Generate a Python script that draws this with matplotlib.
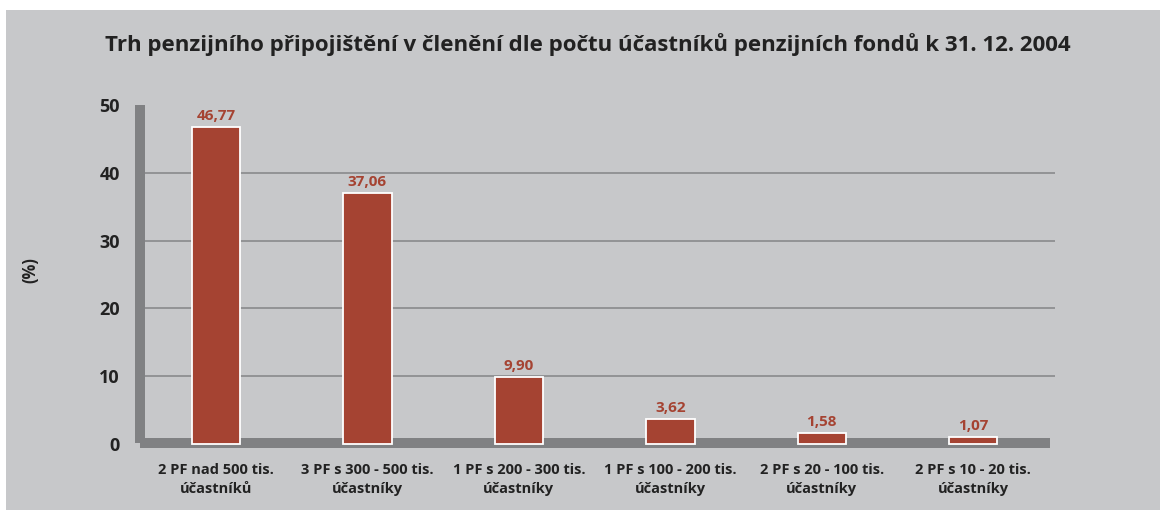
"""
Trh penzijniho pripojisteni - bar chart recreation.
"""

import matplotlib.pyplot as plt
from matplotlib.patches import Rectangle

# =========================
# DATA
# =========================
CATEGORIES = [
    "2 PF nad 500 tis.\núčastníků",
    "3 PF s 300 - 500 tis.\núčastníky",
    "1 PF s 200 - 300 tis.\núčastníky",
    "1 PF s 100 - 200 tis.\núčastníky",
    "2 PF s 20 - 100 tis.\núčastníky",
    "2 PF s 10 - 20 tis.\núčastníky",
]
VALUES = [46.77, 37.06, 9.90, 3.62, 1.58, 1.07]
Y_TICKS = [0, 10, 20, 30, 40, 50]
TITLE = "Trh penzijního připojištění v členění dle počtu účastníků penzijních fondů k 31. 12. 2004"

# =========================
# STYLE
# =========================
BG = "#c7c8ca"
AXIS_GREY = "#808183"
GRID = "#898a8c"
BAR_RED = "#a54332"
TEXT = "#222222"
FONT = ["Open Sans", "DejaVu Sans"]

W, H = 1160, 513
fig = plt.figure(figsize=(W / 100, H / 100), dpi=100)
fig.patch.set_facecolor("white")
# grey panel behind everything
fig.patches.append(Rectangle((6 / W, 3 / H), 1 - 6 / W, 500 / H,
                             transform=fig.transFigure, facecolor=BG, edgecolor="none",
                             zorder=-10))

# axes placed in pixel terms: x 145..1055, y0=444, y50=105
ax = fig.add_axes([145 / W, (H - 444) / H, 910 / W, (444 - 105) / H])
ax.set_facecolor("none")
ax.set_zorder(1)
x = range(len(VALUES))
ax.set_xlim(-0.469, len(VALUES) - 1 + 0.54)
ax.set_ylim(0, 50)

for y in Y_TICKS[1:-1]:
    ax.axhline(y, color=GRID, lw=1.2, zorder=1)

# thick grey axis bars
ax.add_patch(Rectangle((-10 / 910, 1 / 339), 10 / 910, 338 / 339, transform=ax.transAxes,
                       facecolor=AXIS_GREY, edgecolor="none", clip_on=False, zorder=2))
ax.add_patch(Rectangle((-5 / 910, -4 / 339), 910 / 910, 10 / 339, transform=ax.transAxes,
                       facecolor=AXIS_GREY, edgecolor="none", clip_on=False, zorder=2))

bars = ax.bar(x, VALUES, width=0.32, color=BAR_RED, edgecolor="white", linewidth=1.3,
              zorder=3, clip_on=False)
for rect, v in zip(bars, VALUES):
    ax.annotate(f"{v:.2f}".replace(".", ","),
                (rect.get_x() + rect.get_width() / 2, rect.get_height()),
                xytext=(0, 3), textcoords="offset points", ha="center", va="bottom",
                color=BAR_RED, fontsize=11, fontweight="bold", family=FONT)

for s in ax.spines.values():
    s.set_visible(False)
ax.tick_params(length=0)
ax.set_xticks(list(x))
ax.set_xticklabels(CATEGORIES, fontsize=10.5, fontweight="bold", color=TEXT,
                   family=FONT, linespacing=1.45)
ax.tick_params(axis="x", pad=14)
ax.set_yticks(Y_TICKS)
ax.set_yticklabels([str(t) for t in Y_TICKS], fontsize=13, fontweight="bold",
                   color=TEXT, family=FONT)
ax.tick_params(axis="y", pad=18)

fig.text(30 / W, 1 - 270 / H, "(%)", rotation=90, ha="center", va="center",
         fontsize=12, fontweight="bold", color=TEXT, family=FONT)
fig.text(588 / W, 1 - 45 / H, TITLE, ha="center", va="center", fontsize=16,
         fontweight="bold", color=TEXT, family=FONT)

plt.savefig("out.png", dpi=100, facecolor=fig.get_facecolor())
